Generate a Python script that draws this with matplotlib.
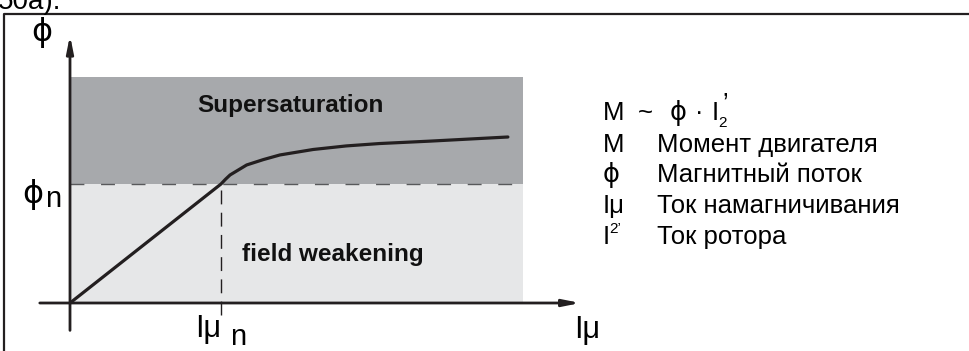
import matplotlib
matplotlib.use("Agg")
import matplotlib.pyplot as plt
from matplotlib.patches import Rectangle

plt.rcParams['font.family'] = ['Liberation Sans', 'DejaVu Sans']

# data (units: I_mu / I_mu_n and phi / phi_n)
i_mu_n = 1.0
phi_n = 1.0
curve_x = [0.0, 1.0, 1.03, 1.06, 1.17, 1.28, 1.39, 1.61, 1.83, 2.05, 2.38, 2.9]
curve_y = [0.0, 1.0, 1.04, 1.076, 1.16, 1.205, 1.244, 1.29, 1.32, 1.34, 1.36, 1.395]
zone_x_end = 3.0
super_top = 1.9
x_axis = [-0.2, 3.38]
y_axis = [-0.23, 2.25]
vline_bottom = -0.1

legend_sym = ["M", "ϕ", "Iμ", "I"]
legend_txt = ["Момент двигателя", "Магнитный поток", "Ток намагничивания", "Ток ротора"]

W, H = 970, 351
# pixel position of the origin and pixels per unit
ox, oy, sx, sy = 70, 303, 151, 119

fig = plt.figure(figsize=(W / 100, H / 100), dpi=100)
ax = fig.add_axes([0, 0, 1, 1])
ax.set_xlim(-ox / sx, (W - ox) / sx)
ax.set_ylim(-(H - oy) / sy, oy / sy)
ax.axis('off')


def px(x, y):
    return x / W, 1 - y / H


ink = '#231f20'

# zones
ax.add_patch(Rectangle((0, phi_n), zone_x_end, super_top - phi_n, fc='#a7a9ac', ec='none', zorder=1))
ax.add_patch(Rectangle((0, 0), zone_x_end, phi_n, fc='#e6e7e8', ec='none', zorder=1))

# dashed guides
ax.plot([0, zone_x_end], [phi_n, phi_n], color='#58595b', lw=1.0, dashes=(10, 12), zorder=2)
ax.plot([i_mu_n, i_mu_n], [vline_bottom, phi_n], color=ink, lw=1.0, dashes=(10, 6), zorder=2)

# axes with arrows
arr = dict(arrowstyle='-|>,head_length=1.0,head_width=0.2', color=ink, lw=2.0, shrinkA=0, shrinkB=0)
ax.annotate('', xy=(x_axis[1], 0), xytext=(x_axis[0], 0), arrowprops=arr, zorder=4)
ax.annotate('', xy=(0, y_axis[1]), xytext=(0, y_axis[0]), arrowprops=arr, zorder=4)

# magnetisation curve
ax.plot(curve_x, curve_y, color=ink, lw=2.3, solid_capstyle='round', solid_joinstyle='round', zorder=5)

# axis labels
phi_font = ['DejaVu Sans']
ax.text(*px(42, 33), "ϕ", transform=ax.transAxes, fontsize=23, ha='center', va='center', family=phi_font)
ax.text(*px(33, 194), "ϕ", transform=ax.transAxes, fontsize=23, ha='center', va='center', family=phi_font)
ax.text(*px(53, 199), "n", transform=ax.transAxes, fontsize=21, ha='center', va='center')
ax.text(*px(208, 329), "Iμ", transform=ax.transAxes, fontsize=22, ha='center', va='center')
ax.text(*px(238, 337), "n", transform=ax.transAxes, fontsize=21, ha='center', va='center')
ax.text(*px(587, 330), "Iμ", transform=ax.transAxes, fontsize=22, ha='center', va='center')

# zone labels
ax.text(*px(290, 105), "Supersaturation", transform=ax.transAxes, fontsize=17.5, fontweight='bold',
        ha='center', va='center', color='#111111', zorder=6)
ax.text(*px(333, 255), "field weakening", transform=ax.transAxes, fontsize=17.5, fontweight='bold',
        ha='center', va='center', color='#111111', zorder=6)

# legend block
fs = 18.5
ax.text(*px(603, 113), "M", transform=ax.transAxes, fontsize=fs, va='center')
ax.text(*px(638, 113), "~", transform=ax.transAxes, fontsize=fs, va='center')
ax.text(*px(670, 113), "ϕ", transform=ax.transAxes, fontsize=fs, va='center', family=phi_font)
ax.text(*px(695, 113), "·", transform=ax.transAxes, fontsize=fs, va='center')
ax.text(*px(712, 113), "I", transform=ax.transAxes, fontsize=fs, va='center')
ax.text(*px(718, 123), "2", transform=ax.transAxes, fontsize=11, va='center')
ax.text(*px(722, 104), "’", transform=ax.transAxes, fontsize=fs, va='center')

rows_y = [145, 175, 206, 237]
for sym, txt, y in zip(legend_sym, legend_txt, rows_y):
    fam = phi_font if sym == "ϕ" else ['Liberation Sans', 'DejaVu Sans']
    ax.text(*px(603, y), sym, transform=ax.transAxes, fontsize=fs, va='center', family=fam)
    ax.text(*px(657, y), txt, transform=ax.transAxes, fontsize=fs, va='center')
ax.text(*px(609, 229), "2’", transform=ax.transAxes, fontsize=11, va='center')

# outer frame and clipped caption above it
ax.plot([4 / W, 4 / W, 1.0], [0.0, 1 - 14 / H, 1 - 14 / H], transform=ax.transAxes,
        color=ink, lw=1.6, clip_on=False)
ax.text(*px(-2, 9), "50a).", transform=ax.transAxes, fontsize=20, va='baseline', ha='left')

fig.savefig("out.png", dpi=100)
